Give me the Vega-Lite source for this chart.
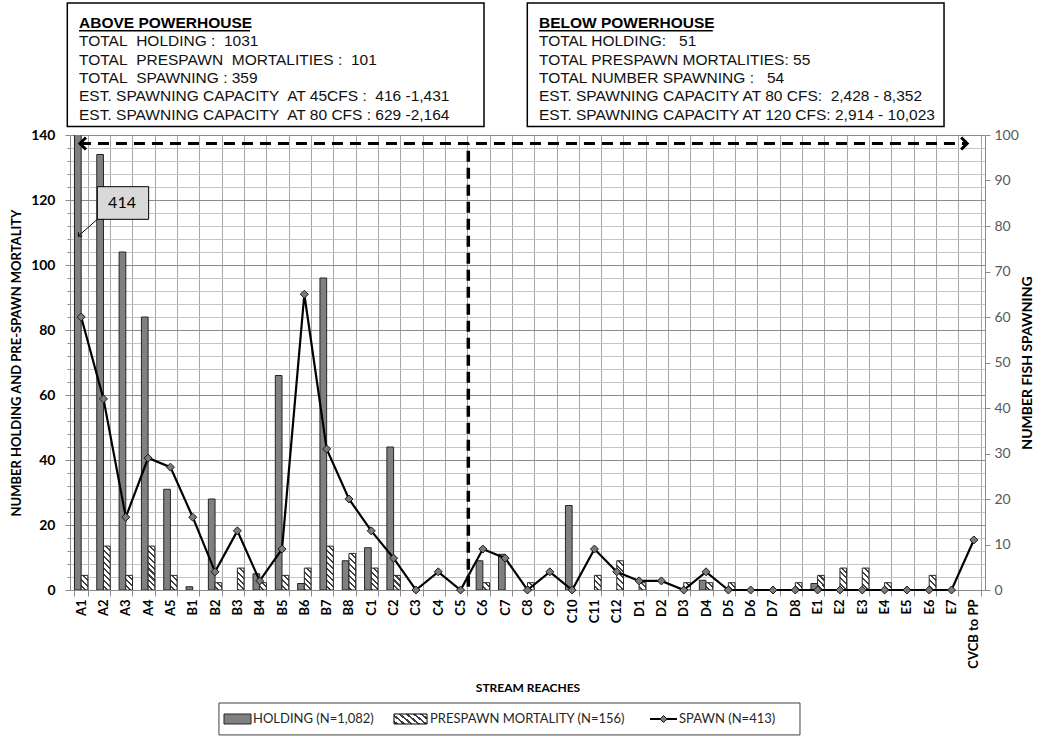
{
  "$schema": "https://vega.github.io/schema/vega-lite/v6.json",
  "width": 915,
  "height": 455,
  "autosize": {"type": "none"},
  "padding": {"left": 70, "top": 135, "right": 59, "bottom": 152},
  "background": "white",
  "config": {"view": {"stroke": null}, "font": "Lato"},
  "datasets": {
    "reaches": [
      {"reach": "A1", "holding": 414, "prespawn": 4.5, "spawn": 60},
      {"reach": "A2", "holding": 134, "prespawn": 13.5, "spawn": 42},
      {"reach": "A3", "holding": 104, "prespawn": 4.5, "spawn": 16},
      {"reach": "A4", "holding": 84, "prespawn": 13.5, "spawn": 29},
      {"reach": "A5", "holding": 31, "prespawn": 4.5, "spawn": 27},
      {"reach": "B1", "holding": 1, "prespawn": 0, "spawn": 16},
      {"reach": "B2", "holding": 28, "prespawn": 2.25, "spawn": 4},
      {"reach": "B3", "holding": 0, "prespawn": 6.75, "spawn": 13},
      {"reach": "B4", "holding": 5, "prespawn": 2.25, "spawn": 2},
      {"reach": "B5", "holding": 66, "prespawn": 4.5, "spawn": 9},
      {"reach": "B6", "holding": 2, "prespawn": 6.75, "spawn": 65},
      {"reach": "B7", "holding": 96, "prespawn": 13.5, "spawn": 31},
      {"reach": "B8", "holding": 9, "prespawn": 11.25, "spawn": 20},
      {"reach": "C1", "holding": 13, "prespawn": 6.75, "spawn": 13},
      {"reach": "C2", "holding": 44, "prespawn": 4.5, "spawn": 7},
      {"reach": "C3", "holding": 0, "prespawn": 0, "spawn": 0},
      {"reach": "C4", "holding": 0, "prespawn": 0, "spawn": 4},
      {"reach": "C5", "holding": 0, "prespawn": 0, "spawn": 0},
      {"reach": "C6", "holding": 9, "prespawn": 2.25, "spawn": 9},
      {"reach": "C7", "holding": 11, "prespawn": 0, "spawn": 7},
      {"reach": "C8", "holding": 0, "prespawn": 2.25, "spawn": 0},
      {"reach": "C9", "holding": 0, "prespawn": 0, "spawn": 4},
      {"reach": "C10", "holding": 26, "prespawn": 0, "spawn": 0},
      {"reach": "C11", "holding": 0, "prespawn": 4.5, "spawn": 9},
      {"reach": "C12", "holding": 0, "prespawn": 9, "spawn": 4},
      {"reach": "D1", "holding": 0, "prespawn": 2.25, "spawn": 2},
      {"reach": "D2", "holding": 0, "prespawn": 0, "spawn": 2},
      {"reach": "D3", "holding": 0, "prespawn": 2.25, "spawn": 0},
      {"reach": "D4", "holding": 3, "prespawn": 2.25, "spawn": 4},
      {"reach": "D5", "holding": 0, "prespawn": 2.25, "spawn": 0},
      {"reach": "D6", "holding": 0, "prespawn": 0, "spawn": 0},
      {"reach": "D7", "holding": 0, "prespawn": 0, "spawn": 0},
      {"reach": "D8", "holding": 0, "prespawn": 2.25, "spawn": 0},
      {"reach": "E1", "holding": 2, "prespawn": 4.5, "spawn": 0},
      {"reach": "E2", "holding": 0, "prespawn": 6.75, "spawn": 0},
      {"reach": "E3", "holding": 0, "prespawn": 6.75, "spawn": 0},
      {"reach": "E4", "holding": 0, "prespawn": 2.25, "spawn": 0},
      {"reach": "E5", "holding": 0, "prespawn": 0, "spawn": 0},
      {"reach": "E6", "holding": 0, "prespawn": 4.5, "spawn": 0},
      {"reach": "E7", "holding": 0, "prespawn": 0, "spawn": 0},
      {"reach": "CVCB to PP", "holding": 0, "prespawn": 0, "spawn": 11}
    ]
  },
  "layer": [
    {
      "layer": [
        {
          "data": {"name": "reaches"},
          "transform": [
            {"fold": ["holding", "prespawn"], "as": ["series", "count"]},
            {"filter": "datum.count > 0"}
          ],
          "mark": {"type": "bar", "clip": true, "stroke": "#262626", "strokeWidth": 1},
          "encoding": {
            "x": {
              "field": "reach", "type": "nominal", "sort": null,
              "scale": {
                "domain": ["A1","A2","A3","A4","A5","B1","B2","B3","B4","B5","B6","B7","B8","C1","C2","C3","C4","C5","C6","C7","C8","C9","C10","C11","C12","D1","D2","D3","D4","D5","D6","D7","D8","E1","E2","E3","E4","E5","E6","E7","CVCB to PP"],
                "paddingInner": 0.4, "paddingOuter": 0.2
              },
              "axis": {
                "title": "STREAM REACHES", "titleFont": "Lato", "titleFontWeight": "bold", "titleFontSize": 12, "titleColor": "#000", "titlePadding": 14,
                "labelAngle": 270, "labelFont": "Lato", "labelFontWeight": "bold", "labelFontSize": 13, "labelColor": "#000", "labelPadding": 3,
                "tickBand": "extent", "tickSize": 6, "tickColor": "#8c8c8c",
                "grid": true, "gridColor": "#a6a6a6", "domainColor": "#8c8c8c"
              }
            },
            "xOffset": {"field": "series", "type": "nominal", "scale": {"domain": ["holding", "prespawn"], "paddingInner": 0, "paddingOuter": 0}},
            "y": {
              "field": "count", "type": "quantitative",
              "scale": {"domain": [0, 140], "nice": false, "zero": true},
              "axis": {
                "title": "NUMBER HOLDING AND PRE-SPAWN MORTALITY", "titleFont": "Lato", "titleFontWeight": "bold", "titleFontSize": 13, "titleColor": "#000", "titlePadding": 7,
                "values": [0,4,8,12,16,20,24,28,32,36,40,44,48,52,56,60,64,68,72,76,80,84,88,92,96,100,104,108,112,116,120,124,128,132,136,140],
                "tickCount": 40,
                "labelExpr": "datum.value % 20 == 0 ? datum.label : ''",
                "labelFont": "Lato", "labelFontWeight": "bold", "labelFontSize": 14, "labelColor": "#000", "labelPadding": 10,
                "grid": true,
                "gridColor": {"condition": {"test": "datum.value % 20 == 0", "value": "#8c8c8c"}, "value": "#c4c4c4"},
                "tickSize": {"condition": {"test": "datum.value % 20 == 0", "value": 5}, "value": 3},
                "tickColor": "#8c8c8c", "domainColor": "#8c8c8c"
              }
            },
            "fill": {
              "condition": [
                {"test": "datum.series == 'prespawn' && datum.count < 3", "value": {"gradient": "linear", "x1": 1, "y1": 0, "x2": 0.045, "y2": 1.041, "stops": [
                  {"offset": 0, "color": "#ffffff"}, {"offset": 0.26, "color": "#ffffff"}, {"offset": 0.26, "color": "#404040"}, {"offset": 0.4, "color": "#404040"},
                  {"offset": 0.4, "color": "#ffffff"}, {"offset": 0.66, "color": "#ffffff"}, {"offset": 0.66, "color": "#404040"}, {"offset": 0.8, "color": "#404040"},
                  {"offset": 0.8, "color": "#ffffff"}, {"offset": 1, "color": "#ffffff"}]}},
                {"test": "datum.series == 'prespawn' && datum.count < 5.5", "value": {"gradient": "linear", "x1": 1, "y1": 0, "x2": 0.447, "y2": 1.205, "stops": [
                  {"offset": 0, "color": "#ffffff"}, {"offset": 0.18, "color": "#ffffff"}, {"offset": 0.18, "color": "#404040"}, {"offset": 0.28, "color": "#404040"},
                  {"offset": 0.28, "color": "#ffffff"}, {"offset": 0.46, "color": "#ffffff"}, {"offset": 0.46, "color": "#404040"}, {"offset": 0.56, "color": "#404040"},
                  {"offset": 0.56, "color": "#ffffff"}, {"offset": 0.74, "color": "#ffffff"}, {"offset": 0.74, "color": "#404040"}, {"offset": 0.84, "color": "#404040"},
                  {"offset": 0.84, "color": "#ffffff"}, {"offset": 1, "color": "#ffffff"}]}},
                {"test": "datum.series == 'prespawn' && datum.count < 7.5", "value": {"gradient": "linear", "x1": 1, "y1": 0, "x2": 0.635, "y2": 1.194, "stops": [
                  {"offset": 0, "color": "#ffffff"}, {"offset": 0.13, "color": "#ffffff"}, {"offset": 0.13, "color": "#404040"}, {"offset": 0.2, "color": "#404040"},
                  {"offset": 0.2, "color": "#ffffff"}, {"offset": 0.33, "color": "#ffffff"}, {"offset": 0.33, "color": "#404040"}, {"offset": 0.4, "color": "#404040"},
                  {"offset": 0.4, "color": "#ffffff"}, {"offset": 0.53, "color": "#ffffff"}, {"offset": 0.53, "color": "#404040"}, {"offset": 0.6, "color": "#404040"},
                  {"offset": 0.6, "color": "#ffffff"}, {"offset": 0.73, "color": "#ffffff"}, {"offset": 0.73, "color": "#404040"}, {"offset": 0.8, "color": "#404040"},
                  {"offset": 0.8, "color": "#ffffff"}, {"offset": 0.93, "color": "#ffffff"}, {"offset": 0.93, "color": "#404040"}, {"offset": 1, "color": "#404040"}]}},
                {"test": "datum.series == 'prespawn' && datum.count < 10", "value": {"gradient": "linear", "x1": 1, "y1": 0, "x2": 0.7325, "y2": 1.168, "stops": [
                  {"offset": 0, "color": "#ffffff"}, {"offset": 0.108, "color": "#ffffff"}, {"offset": 0.108, "color": "#404040"}, {"offset": 0.1667, "color": "#404040"},
                  {"offset": 0.1667, "color": "#ffffff"}, {"offset": 0.275, "color": "#ffffff"}, {"offset": 0.275, "color": "#404040"}, {"offset": 0.333, "color": "#404040"},
                  {"offset": 0.333, "color": "#ffffff"}, {"offset": 0.442, "color": "#ffffff"}, {"offset": 0.442, "color": "#404040"}, {"offset": 0.5, "color": "#404040"},
                  {"offset": 0.5, "color": "#ffffff"}, {"offset": 0.608, "color": "#ffffff"}, {"offset": 0.608, "color": "#404040"}, {"offset": 0.667, "color": "#404040"},
                  {"offset": 0.667, "color": "#ffffff"}, {"offset": 0.775, "color": "#ffffff"}, {"offset": 0.775, "color": "#404040"}, {"offset": 0.833, "color": "#404040"},
                  {"offset": 0.833, "color": "#ffffff"}, {"offset": 0.942, "color": "#ffffff"}, {"offset": 0.942, "color": "#404040"}, {"offset": 1, "color": "#404040"}]}},
                {"test": "datum.series == 'prespawn' && datum.count < 12", "value": {"gradient": "linear", "x1": 1, "y1": 0, "x2": 0.79, "y2": 1.145, "stops": [
                  {"offset": 0, "color": "#ffffff"}, {"offset": 0.089, "color": "#ffffff"}, {"offset": 0.089, "color": "#404040"}, {"offset": 0.137, "color": "#404040"},
                  {"offset": 0.137, "color": "#ffffff"}, {"offset": 0.226, "color": "#ffffff"}, {"offset": 0.226, "color": "#404040"}, {"offset": 0.274, "color": "#404040"},
                  {"offset": 0.274, "color": "#ffffff"}, {"offset": 0.363, "color": "#ffffff"}, {"offset": 0.363, "color": "#404040"}, {"offset": 0.411, "color": "#404040"},
                  {"offset": 0.411, "color": "#ffffff"}, {"offset": 0.5, "color": "#ffffff"}, {"offset": 0.5, "color": "#404040"}, {"offset": 0.548, "color": "#404040"},
                  {"offset": 0.548, "color": "#ffffff"}, {"offset": 0.637, "color": "#ffffff"}, {"offset": 0.637, "color": "#404040"}, {"offset": 0.685, "color": "#404040"},
                  {"offset": 0.685, "color": "#ffffff"}, {"offset": 0.774, "color": "#ffffff"}, {"offset": 0.774, "color": "#404040"}, {"offset": 0.822, "color": "#404040"},
                  {"offset": 0.822, "color": "#ffffff"}, {"offset": 0.911, "color": "#ffffff"}, {"offset": 0.911, "color": "#404040"}, {"offset": 0.959, "color": "#404040"},
                  {"offset": 0.959, "color": "#ffffff"}, {"offset": 1, "color": "#ffffff"}]}},
                {"test": "datum.series == 'prespawn'", "value": {"gradient": "linear", "x1": 1, "y1": 0, "x2": 0.828, "y2": 1.126, "stops": [
                  {"offset": 0, "color": "#ffffff"}, {"offset": 0.0765, "color": "#ffffff"}, {"offset": 0.0765, "color": "#404040"}, {"offset": 0.1176, "color": "#404040"},
                  {"offset": 0.1176, "color": "#ffffff"}, {"offset": 0.194, "color": "#ffffff"}, {"offset": 0.194, "color": "#404040"}, {"offset": 0.235, "color": "#404040"},
                  {"offset": 0.235, "color": "#ffffff"}, {"offset": 0.312, "color": "#ffffff"}, {"offset": 0.312, "color": "#404040"}, {"offset": 0.353, "color": "#404040"},
                  {"offset": 0.353, "color": "#ffffff"}, {"offset": 0.429, "color": "#ffffff"}, {"offset": 0.429, "color": "#404040"}, {"offset": 0.471, "color": "#404040"},
                  {"offset": 0.471, "color": "#ffffff"}, {"offset": 0.547, "color": "#ffffff"}, {"offset": 0.547, "color": "#404040"}, {"offset": 0.588, "color": "#404040"},
                  {"offset": 0.588, "color": "#ffffff"}, {"offset": 0.665, "color": "#ffffff"}, {"offset": 0.665, "color": "#404040"}, {"offset": 0.706, "color": "#404040"},
                  {"offset": 0.706, "color": "#ffffff"}, {"offset": 0.782, "color": "#ffffff"}, {"offset": 0.782, "color": "#404040"}, {"offset": 0.824, "color": "#404040"},
                  {"offset": 0.824, "color": "#ffffff"}, {"offset": 0.9, "color": "#ffffff"}, {"offset": 0.9, "color": "#404040"}, {"offset": 0.941, "color": "#404040"},
                  {"offset": 0.941, "color": "#ffffff"}, {"offset": 1, "color": "#ffffff"}]}}
              ],
              "value": "#808080"
            }
          }
        },
        {
          "data": {"values": [{}]},
          "mark": {"type": "rect", "fill": "white", "stroke": "#000", "strokeWidth": 1.5},
          "encoding": {
            "x": {"datum": "A1", "type": "nominal", "bandPosition": -0.535},
            "x2": {"datum": "C6", "bandPosition": 0.585},
            "y": {"datum": 180.6, "type": "quantitative"},
            "y2": {"datum": 142.6}
          }
        },
        {
          "data": {"values": [{}]},
          "mark": {"type": "rect", "fill": "white", "stroke": "#000", "strokeWidth": 1.5},
          "encoding": {
            "x": {"datum": "C8", "type": "nominal", "bandPosition": 0.485},
            "x2": {"datum": "E7", "bandPosition": -0.06},
            "y": {"datum": 180.6, "type": "quantitative"},
            "y2": {"datum": 142.6}
          }
        },
        {
          "data": {"values": [{}]},
          "mark": {"type": "text", "font": "Liberation Sans", "fontSize": 15.5, "fontWeight": "bold", "align": "left", "baseline": "alphabetic", "color": "#000"},
          "encoding": {
            "x": {"datum": "A1", "type": "nominal", "bandPosition": 0.34},
            "y": {"datum": 173.0, "type": "quantitative"},
            "text": {"value": "ABOVE POWERHOUSE"}
          }
        },
        {
          "data": {"values": [{}]},
          "mark": {"type": "text", "font": "Liberation Sans", "fontSize": 15.5, "fontWeight": "bold", "align": "left", "baseline": "alphabetic", "color": "#000"},
          "encoding": {
            "x": {"datum": "C9", "type": "nominal", "bandPosition": -0.31},
            "y": {"datum": 173.0, "type": "quantitative"},
            "text": {"value": "BELOW POWERHOUSE"}
          }
        },
        {
          "data": {"values": [{}]},
          "mark": {"type": "rule", "stroke": "#000", "strokeWidth": 1.4},
          "encoding": {
            "x": {"datum": "A1", "type": "nominal", "bandPosition": 0.34},
            "x2": {"datum": "B4", "bandPosition": -0.22},
            "y": {"datum": 172.1, "type": "quantitative"}
          }
        },
        {
          "data": {"values": [{}]},
          "mark": {"type": "rule", "stroke": "#000", "strokeWidth": 1.4},
          "encoding": {
            "x": {"datum": "C9", "type": "nominal", "bandPosition": -0.31},
            "x2": {"datum": "D4", "bandPosition": 1.0},
            "y": {"datum": 172.1, "type": "quantitative"}
          }
        },
        {
          "data": {"values": [{}]},
          "mark": {"type": "text", "font": "Liberation Sans", "fontSize": 15.5, "align": "left", "baseline": "alphabetic", "color": "#111", "lineHeight": 18.4},
          "encoding": {
            "x": {"datum": "A1", "type": "nominal", "bandPosition": 0.34},
            "y": {"datum": 167.3, "type": "quantitative"},
            "text": {"value": ["TOTAL\u00a0 HOLDING :\u00a0 1031", "TOTAL\u00a0 PRESPAWN\u00a0 MORTALITIES :\u00a0 101", "TOTAL\u00a0 SPAWNING : 359", "EST. SPAWNING CAPACITY\u00a0 AT 45CFS :\u00a0 416 -1,431", "EST. SPAWNING CAPACITY\u00a0 AT 80 CFS : 629 -2,164"]}
          }
        },
        {
          "data": {"values": [{}]},
          "mark": {"type": "text", "font": "Liberation Sans", "fontSize": 15.5, "align": "left", "baseline": "alphabetic", "color": "#111", "lineHeight": 18.4},
          "encoding": {
            "x": {"datum": "C9", "type": "nominal", "bandPosition": -0.31},
            "y": {"datum": 167.3, "type": "quantitative"},
            "text": {"value": ["TOTAL HOLDING:\u00a0\u00a0 51", "TOTAL PRESPAWN MORTALITIES: 55", "TOTAL NUMBER SPAWNING :\u00a0\u00a0 54", "EST. SPAWNING CAPACITY AT 80 CFS:\u00a0 2,428 - 8,352", "EST. SPAWNING CAPACITY AT 120 CFS: 2,914 - 10,023"]}
          }
        },
        {
          "data": {"values": [{}]},
          "mark": {"type": "rule", "stroke": "#000", "strokeWidth": 3.5, "strokeDash": [11, 6]},
          "encoding": {
            "x": {"datum": "C5", "type": "nominal", "bandPosition": 1.08},
            "y": {"datum": 1, "type": "quantitative"},
            "y2": {"datum": 137.4}
          }
        },
        {
          "data": {"values": [{}]},
          "mark": {"type": "rule", "stroke": "#000", "strokeWidth": 3, "strokeDash": [11, 7]},
          "encoding": {
            "x": {"datum": "A1", "type": "nominal", "bandPosition": 0.41},
            "x2": {"datum": "CVCB to PP", "bandPosition": 0},
            "y": {"datum": 137.4, "type": "quantitative"}
          }
        },
        {
          "data": {"values": [{}]},
          "mark": {"type": "point", "shape": "M-1,-1L0,0L-1,1", "filled": false, "stroke": "#000", "strokeWidth": 3, "size": 144, "angle": 180, "opacity": 1},
          "encoding": {
            "x": {"datum": "A1", "type": "nominal", "bandPosition": 0.41},
            "y": {"datum": 137.4, "type": "quantitative"}
          }
        },
        {
          "data": {"values": [{}]},
          "mark": {"type": "point", "shape": "M-1,-1L0,0L-1,1", "filled": false, "stroke": "#000", "strokeWidth": 3, "size": 144, "angle": 0, "opacity": 1},
          "encoding": {
            "x": {"datum": "CVCB to PP", "type": "nominal", "bandPosition": 0},
            "y": {"datum": 137.4, "type": "quantitative"}
          }
        },
        {
          "data": {"values": [{}]},
          "mark": {"type": "rule", "stroke": "#000", "strokeWidth": 1},
          "encoding": {
            "x": {"datum": "A2", "type": "nominal", "bandPosition": 0.04},
            "x2": {"datum": "A1", "bandPosition": 0.29},
            "y": {"datum": 114.05, "type": "quantitative"},
            "y2": {"datum": 108.9}
          }
        },
        {
          "data": {"values": [{}]},
          "mark": {"type": "point", "shape": "M-1,-1L0,0L-1,1", "filled": false, "stroke": "#000", "strokeWidth": 1, "size": 30, "angle": 137.7, "opacity": 1},
          "encoding": {
            "x": {"datum": "A1", "type": "nominal", "bandPosition": 0.29},
            "y": {"datum": 108.9, "type": "quantitative"}
          }
        },
        {
          "data": {"values": [{}]},
          "mark": {"type": "rect", "fill": "#d9d9d9", "stroke": "#000", "strokeWidth": 1},
          "encoding": {
            "x": {"datum": "A2", "type": "nominal", "bandPosition": 0.04},
            "x2": {"datum": "A4", "bandPosition": 0.54},
            "y": {"datum": 124.1, "type": "quantitative"},
            "y2": {"datum": 114.05}
          }
        },
        {
          "data": {"values": [{}]},
          "mark": {"type": "text", "font": "Lato", "fontSize": 16, "align": "center", "baseline": "middle", "color": "#000"},
          "encoding": {
            "x": {"datum": "A3", "type": "nominal", "bandPosition": 0.22},
            "y": {"datum": 119.1, "type": "quantitative"},
            "text": {"value": "414"}
          }
        },
        {
          "data": {"values": [{}]},
          "mark": {"type": "rect", "fill": "white", "stroke": "#404040", "strokeWidth": 1},
          "encoding": {
            "x": {"datum": "B2", "type": "nominal", "bandPosition": 0.79},
            "x2": {"datum": "D8", "bandPosition": 0.85},
            "y": {"datum": -34.77, "type": "quantitative"},
            "y2": {"datum": -44.6}
          }
        },
        {
          "data": {"values": [{}]},
          "mark": {"type": "rect", "fill": "#808080", "stroke": "#262626", "strokeWidth": 1},
          "encoding": {
            "x": {"datum": "B3", "type": "nominal", "bandPosition": -0.5},
            "x2": {"datum": "B3", "bandPosition": 1.52},
            "y": {"datum": -38.15, "type": "quantitative"},
            "y2": {"datum": -41.23}
          }
        },
        {
          "data": {"values": [{}]},
          "mark": {"type": "rect", "stroke": "#000", "strokeWidth": 1, "fill": {"gradient": "linear", "x1": 1, "y1": 0, "x2": -0.205, "y2": 0.446, "stops": [
                    {"offset": 0, "color": "#ffffff"}, {"offset": 0.1, "color": "#ffffff"}, {"offset": 0.1, "color": "#404040"}, {"offset": 0.16, "color": "#404040"},
                    {"offset": 0.16, "color": "#ffffff"}, {"offset": 0.26, "color": "#ffffff"}, {"offset": 0.26, "color": "#404040"}, {"offset": 0.32, "color": "#404040"},
                    {"offset": 0.32, "color": "#ffffff"}, {"offset": 0.42, "color": "#ffffff"}, {"offset": 0.42, "color": "#404040"}, {"offset": 0.48, "color": "#404040"},
                    {"offset": 0.48, "color": "#ffffff"}, {"offset": 0.58, "color": "#ffffff"}, {"offset": 0.58, "color": "#404040"}, {"offset": 0.64, "color": "#404040"},
                    {"offset": 0.64, "color": "#ffffff"}, {"offset": 0.74, "color": "#ffffff"}, {"offset": 0.74, "color": "#404040"}, {"offset": 0.8, "color": "#404040"},
                    {"offset": 0.8, "color": "#ffffff"}, {"offset": 0.9, "color": "#ffffff"}, {"offset": 0.9, "color": "#404040"}, {"offset": 0.96, "color": "#404040"},
                    {"offset": 0.96, "color": "#ffffff"}, {"offset": 1, "color": "#ffffff"}
                  ]}},
          "encoding": {
            "x": {"datum": "C2", "type": "nominal", "bandPosition": 0.53},
            "x2": {"datum": "C3", "bandPosition": 1.33},
            "y": {"datum": -38.15, "type": "quantitative"},
            "y2": {"datum": -41.23}
          }
        },
        {
          "data": {"values": [{}]},
          "mark": {"type": "rule", "stroke": "#000", "strokeWidth": 2},
          "encoding": {
            "x": {"datum": "D2", "type": "nominal", "bandPosition": -0.35},
            "x2": {"datum": "D3", "bandPosition": 0},
            "y": {"datum": -39.7, "type": "quantitative"}
          }
        },
        {
          "data": {"values": [{}]},
          "mark": {"type": "point", "shape": "diamond", "size": 49, "filled": true, "fill": "#7a7a7a", "stroke": "#1a1a1a", "strokeWidth": 1, "opacity": 1},
          "encoding": {
            "x": {"datum": "D2", "type": "nominal", "bandPosition": 0.66},
            "y": {"datum": -39.7, "type": "quantitative"}
          }
        },
        {
          "data": {"values": [{}]},
          "mark": {"type": "text", "font": "Lato", "fontSize": 13, "align": "left", "baseline": "middle", "color": "#262626"},
          "encoding": {
            "x": {"datum": "B4", "type": "nominal", "bandPosition": 0},
            "y": {"datum": -39.7, "type": "quantitative"},
            "text": {"value": "HOLDING (N=1,082)"}
          }
        },
        {
          "data": {"values": [{}]},
          "mark": {"type": "text", "font": "Lato", "fontSize": 13, "align": "left", "baseline": "middle", "color": "#262626"},
          "encoding": {
            "x": {"datum": "C4", "type": "nominal", "bandPosition": -0.11},
            "y": {"datum": -39.7, "type": "quantitative"},
            "text": {"value": "PRESPAWN MORTALITY (N=156)"}
          }
        },
        {
          "data": {"values": [{}]},
          "mark": {"type": "text", "font": "Lato", "fontSize": 13, "align": "left", "baseline": "middle", "color": "#262626"},
          "encoding": {
            "x": {"datum": "D3", "type": "nominal", "bandPosition": 0.15},
            "y": {"datum": -39.7, "type": "quantitative"},
            "text": {"value": "SPAWN (N=413)"}
          }
        }
      ]
    },
    {
      "data": {"name": "reaches"},
      "mark": {"type": "line", "color": "#000", "strokeWidth": 2.2,
        "point": {"shape": "diamond", "size": 64, "filled": true, "fill": "#7a7a7a", "stroke": "#1a1a1a", "strokeWidth": 1}},
      "encoding": {
        "x": {"field": "reach", "type": "nominal", "sort": null},
        "y": {
          "field": "spawn", "type": "quantitative",
          "scale": {"domain": [0, 100], "nice": false},
          "axis": {
            "orient": "right", "title": "NUMBER FISH SPAWNING", "titleAngle": 270, "titleFont": "Lato", "titleFontWeight": "bold", "titleFontSize": 14, "titleColor": "#000", "titlePadding": 16,
            "values": [0,10,20,30,40,50,60,70,80,90,100],
            "tickCount": 20,
            "labelFont": "Lato", "labelFontSize": 14, "labelColor": "#595959", "labelPadding": 4,
            "grid": false, "tickSize": 5, "tickColor": "#8c8c8c", "domainColor": "#8c8c8c"
          }
        }
      }
    }
  ],
  "resolve": {"scale": {"y": "independent"}}
}
